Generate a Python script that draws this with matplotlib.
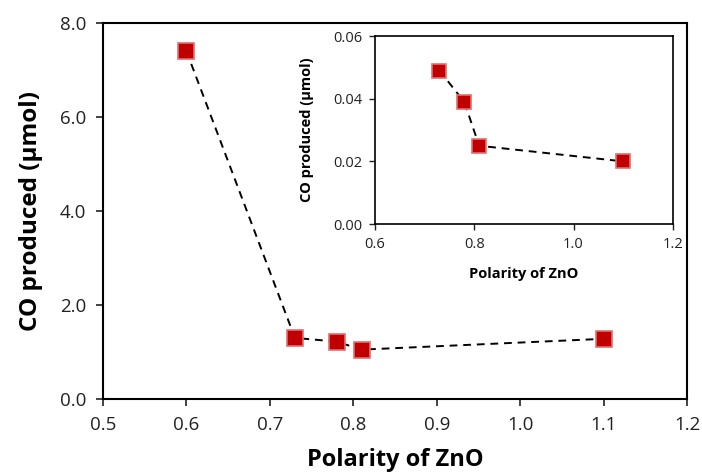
import matplotlib
matplotlib.use("Agg")
import matplotlib.pyplot as plt

POLARITY = [0.60, 0.73, 0.78, 0.81, 1.10]
CO_MAIN = [7.40, 1.30, 1.22, 1.05, 1.28]

POLARITY_INSET = [0.73, 0.78, 0.81, 1.10]
CO_INSET = [0.049, 0.039, 0.025, 0.020]

MAIN_XTICKS = [0.5, 0.6, 0.7, 0.8, 0.9, 1.0, 1.1, 1.2]
MAIN_YTICKS = [0.0, 2.0, 4.0, 6.0, 8.0]
INSET_XTICKS = [0.6, 0.8, 1.0, 1.2]
INSET_YTICKS = [0.00, 0.02, 0.04, 0.06]

plt.rcParams["font.family"] = ["Open Sans", "DejaVu Sans"]

MARKER = dict(marker="s", color="black", ls=(0, (4, 3)), lw=1.4,
              mfc="#C00000", mec="#E07070", mew=1.2)

fig = plt.figure(figsize=(7.02, 4.72), dpi=100)
ax = fig.add_axes([0.1467, 0.1547, 0.832, 0.7966])
ax.plot(POLARITY, CO_MAIN, ms=11.5, **MARKER)
ax.set_xlim(0.5, 1.2)
ax.set_ylim(0, 8)
ax.set_xticks(MAIN_XTICKS)
ax.set_xticklabels([f"{v:.1f}" for v in MAIN_XTICKS])
ax.set_yticks(MAIN_YTICKS)
ax.set_yticklabels([f"{v:.1f}" for v in MAIN_YTICKS])
ax.tick_params(direction="out", length=5, width=1.2, labelsize=13.5,
               colors="#222222", pad=7)
for s in ax.spines.values():
    s.set_linewidth(1.5)
ax.set_xlabel("Polarity of ZnO", fontsize=17, fontweight="bold", labelpad=10)
ax.set_ylabel("CO produced (μmol)", fontsize=17.5, fontweight="bold", labelpad=12)

ins = fig.add_axes([0.534, 0.5254, 0.4245, 0.398])
ins.plot(POLARITY_INSET, CO_INSET, ms=10, **MARKER)
ins.set_xlim(0.6, 1.2)
ins.set_ylim(0, 0.06)
ins.set_xticks(INSET_XTICKS)
ins.set_xticklabels([f"{v:.1f}" for v in INSET_XTICKS])
ins.set_yticks(INSET_YTICKS)
ins.set_yticklabels([f"{v:.2f}" for v in INSET_YTICKS])
ins.tick_params(direction="out", length=4, width=1, labelsize=10.5,
                colors="#222222", pad=5)
for s in ins.spines.values():
    s.set_linewidth(1.2)
ins.set_xlabel("Polarity of ZnO", fontsize=10.5, fontweight="bold", labelpad=11)
ins.set_ylabel("CO produced (μmol)", fontsize=10.5, fontweight="bold", labelpad=14)

fig.savefig("out.png", dpi=100)
